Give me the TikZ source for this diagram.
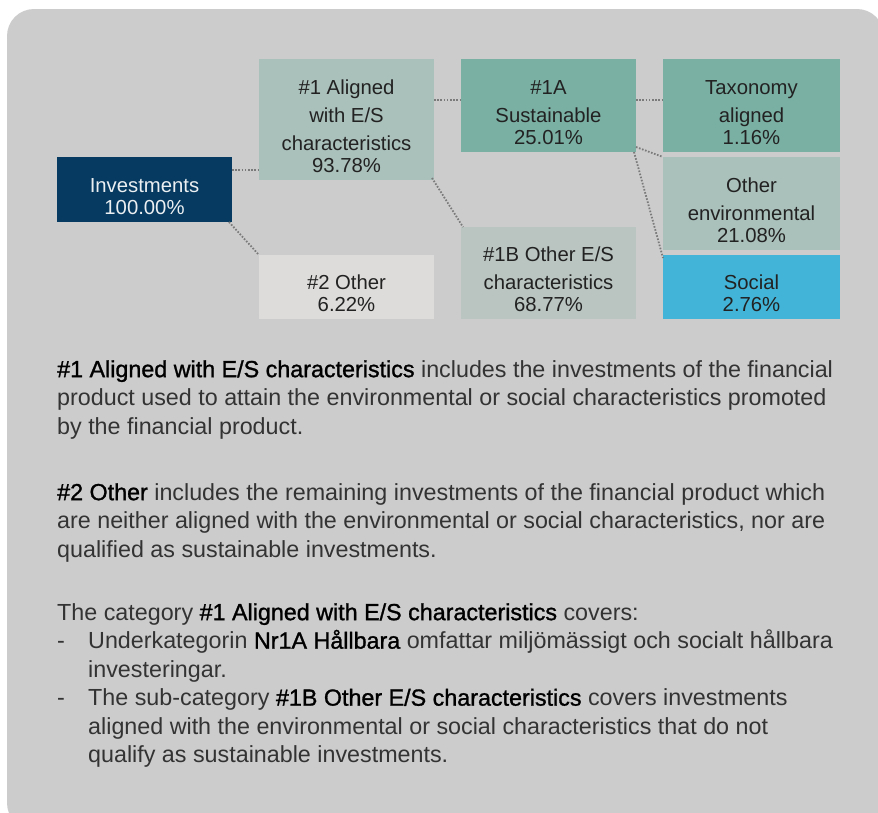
\documentclass[tikz,border=0pt]{standalone}
\usepackage{fontspec}
\setmainfont{Liberation Sans}
\newfontfamily\strongfont[FakeBold=1.2]{Liberation Sans}
\definecolor{bgc}{HTML}{CCCCCC}
\definecolor{navy}{HTML}{063A60}
\definecolor{sage}{HTML}{AAC0BA}
\definecolor{teal}{HTML}{7AAFA3}
\definecolor{paleg}{HTML}{BAC5C1}
\definecolor{lightg}{HTML}{DDDCDA}
\definecolor{sky}{HTML}{42B4D7}
\definecolor{connc}{HTML}{7A7A7A}
\definecolor{boxtxt}{HTML}{222222}
\definecolor{bodytxt}{HTML}{333333}
\newcommand{\strongtxt}[1]{{\strongfont\color{black}#1}}
\begin{document}
\begin{tikzpicture}[x=1pt,y=-1pt,
  box/.style={draw=none, inner sep=0pt, outer sep=0pt, anchor=north west},
  btxt/.style={inner sep=0pt, anchor=south, align=center, text=boxtxt,
    font=\fontsize{20.3}{28}\selectfont},
  conn/.style={draw=connc, line width=1.8pt, dash pattern=on 1.6pt off 1.6pt},
  para/.style={inner sep=0pt, anchor=north west, align=left, text=bodytxt,
    font=\fontsize{23.3}{28.5}\selectfont}]
\useasboundingbox (0,0) rectangle (878,812);
% background panel
\fill[bgc, rounded corners=27pt] (7,9) rectangle (884,830);

% boxes
\node[box, fill=navy,   minimum width=175pt, minimum height=65pt]  (inv)  at (57,157) {};
\node[box, fill=sage,   minimum width=175pt, minimum height=121pt] (al1)  at (259,59) {};
\node[box, fill=lightg, minimum width=175pt, minimum height=64pt]  (oth)  at (259,255) {};
\node[box, fill=teal,   minimum width=175pt, minimum height=93pt]  (s1a)  at (461,59) {};
\node[box, fill=paleg,  minimum width=175pt, minimum height=92pt]  (o1b)  at (461,227) {};
\node[box, fill=teal,   minimum width=177pt, minimum height=93pt]  (tax)  at (663,59) {};
\node[box, fill=sage,   minimum width=177pt, minimum height=93pt]  (oenv) at (663,157) {};
\node[box, fill=sky,    minimum width=177pt, minimum height=64pt]  (soc)  at (663,255) {};

% box texts
\node[btxt, text=white!92!navy] (invt) at ([yshift=7pt]inv.south) {Investments\\[-6pt]100.00\%};
\node[btxt] (al1t) at ([yshift=7pt]al1.south) {\#1 Aligned\\with E/S\\characteristics\\[-6pt]93.78\%};
\node[btxt] (otht) at ([yshift=7pt]oth.south) {\#2 Other\\[-6pt]6.22\%};
\node[btxt] (s1at) at ([yshift=7pt]s1a.south) {\#1A\\Sustainable\\[-6pt]25.01\%};
\node[btxt] (o1bt) at ([yshift=7pt]o1b.south) {\#1B Other E/S\\characteristics\\[-6pt]68.77\%};
\node[btxt] (taxt) at ([yshift=7pt]tax.south) {Taxonomy\\aligned\\[-6pt]1.16\%};
\node[btxt] (oenvt) at ([yshift=7pt]oenv.south) {Other\\environmental\\[-6pt]21.08\%};
\node[btxt] (soct) at ([yshift=7pt]soc.south) {Social\\[-6pt]2.76\%};

% connectors
\draw[conn] ([yshift=-13pt]inv.north east) -- ([yshift=-13pt]inv.north east -| al1.west);
\draw[conn] ([xshift=-3pt]inv.south east) -- (oth.north west);
\draw[conn] ([yshift=-41pt]al1.north east) -- ([yshift=-41pt]s1a.north west);
\draw[conn] ([xshift=-2pt,yshift=2pt]al1.south east) -- ([xshift=2pt]o1b.north west);
\draw[conn] ([yshift=-41pt]s1a.north east) -- ([yshift=-41pt]tax.north west);
\draw[conn] ([yshift=5pt]s1a.south east) -- (oenv.north west);
\draw[conn] ([xshift=-2pt]s1a.south east) -- ([yshift=-3pt]soc.north west);

% explanatory text
\node[para] (p1) at (57,357) {\strut\strongtxt{\#1 Aligned with E/S characteristics} includes the investments of the financial\\
product used to attain the environmental or social characteristics promoted\\
by the financial product.};
\node[para] (p2) at (57,480) {\strut\strongtxt{\#2 Other} includes the remaining investments of the financial product which\\
are neither aligned with the environmental or social characteristics, nor are\\
qualified as sustainable investments.};
\node[para] (p3) at (57,600) {\strut The category \strongtxt{\#1 Aligned with E/S characteristics} covers:\\
\makebox[31pt][l]{-}Underkategorin \strongtxt{Nr1A Hållbara} omfattar miljömässigt och socialt hållbara\\
\hspace*{31pt}investeringar.\\
\makebox[31pt][l]{-}The sub-category \strongtxt{\#1B Other E/S characteristics} covers investments\\
\hspace*{31pt}aligned with the environmental or social characteristics that do not\\
\hspace*{31pt}qualify as sustainable investments.};
\end{tikzpicture}
\end{document}
